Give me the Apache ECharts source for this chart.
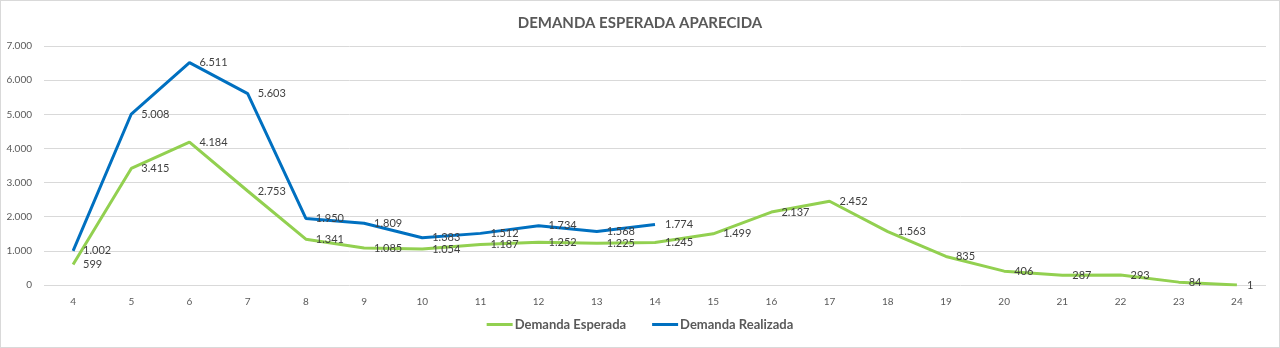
<!DOCTYPE html>
<html>
<head>
<meta charset="utf-8">
<script src="https://cdn.jsdelivr.net/npm/echarts@6/dist/echarts.min.js"></script>
<style>
  html, body { margin: 0; padding: 0; background: #fff; }
  #chart { width: 1280px; height: 348px; box-sizing: border-box; border: 1px solid #d9d9d9; }
</style>
</head>
<body>
<div id="chart"></div>
<script>
// Hours of the day
const categories = ['4','5','6','7','8','9','10','11','12','13','14','15','16','17','18','19','20','21','22','23','24'];
// Expected demand per hour
const demandaEsperada = [599, 3415, 4184, 2753, 1341, 1085, 1054, 1187, 1252, 1225, 1245, 1499, 2137, 2452, 1563, 835, 406, 287, 293, 84, 1];
// Actual demand per hour (recorded up to 14h)
const demandaRealizada = [1002, 5008, 6511, 5603, 1950, 1809, 1383, 1512, 1734, 1568, 1774];
const yTicks = { min: 0, max: 7000, interval: 1000 };

const fmt = v => String(v).replace(/\B(?=(\d{3})+(?!\d))/g, '.');
const FONT = 'Lato, "Open Sans", sans-serif';

const valueLabel = {
  show: true, position: 'right', distance: 10,
  fontFamily: FONT, fontSize: 11, color: '#404040',
  formatter: p => fmt(p.value)
};

const chart = echarts.init(document.getElementById('chart'));
chart.setOption({
  animation: false,
  title: {
    text: 'DEMANDA ESPERADA APARECIDA',
    left: 'center', top: 10,
    textStyle: { fontFamily: FONT, fontSize: 15, fontWeight: 'bold', color: '#595959' }
  },
  grid: { left: 43, right: 13, top: 45, bottom: 62 },
  legend: {
    bottom: 11, left: 'center',
    itemWidth: 26, itemHeight: 3, itemGap: 26,
    icon: 'rect',
    textStyle: { fontFamily: FONT, fontSize: 13, fontWeight: 'bold', color: '#595959', padding: [0, 0, 0, -3] },
    data: ['Demanda Esperada', 'Demanda Realizada']
  },
  xAxis: {
    type: 'category',
    data: categories,
    boundaryGap: true,
    axisLine: { show: false },
    axisTick: { show: false },
    axisLabel: { fontFamily: FONT, fontSize: 10, color: '#595959', margin: 12 }
  },
  yAxis: {
    type: 'value',
    min: yTicks.min, max: yTicks.max, interval: yTicks.interval,
    axisLine: { show: false },
    axisTick: { show: false },
    axisLabel: { fontFamily: FONT, fontSize: 10, color: '#595959', margin: 12, formatter: fmt },
    splitLine: { lineStyle: { color: '#d9d9d9', width: 1 } }
  },
  series: [
    {
      name: 'Demanda Esperada',
      type: 'line',
      data: demandaEsperada,
      symbol: 'circle', symbolSize: 0, showAllSymbol: true,
      lineStyle: { color: '#92D050', width: 3 },
      itemStyle: { color: '#92D050' },
      label: valueLabel,
      labelLayout: { hideOverlap: false }
    },
    {
      name: 'Demanda Realizada',
      type: 'line',
      data: demandaRealizada,
      symbol: 'circle', symbolSize: 0, showAllSymbol: true,
      lineStyle: { color: '#0070C0', width: 3 },
      itemStyle: { color: '#0070C0' },
      label: valueLabel,
      labelLayout: { hideOverlap: false }
    }
  ]
});
</script>
</body>
</html>
